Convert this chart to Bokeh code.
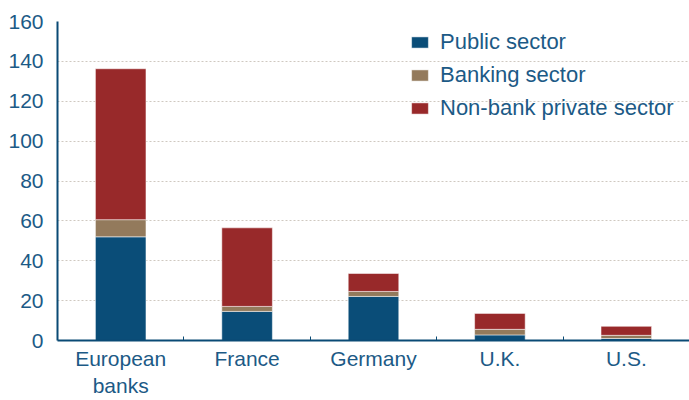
from bokeh.plotting import figure
from bokeh.models import FixedTicker, Range1d, ColumnDataSource, Legend, LegendItem
from bokeh.embed import file_html
from bokeh.resources import INLINE

categories = ["European\nbanks", "France", "Germany", "U.K.", "U.S."]
public = [52.0, 14.6, 22.1, 2.8, 1.0]
banking = [8.6, 2.5, 2.5, 2.8, 1.6]
nonbank = [75.7, 39.4, 9.0, 8.0, 4.5]
series_names = ["Public sector", "Banking sector", "Non-bank private sector"]
colors = ["#0a4d78", "#937a5c", "#98292a"]
y_ticks = [0, 20, 40, 60, 80, 100, 120, 140, 160]

TEXT = "#1c5a86"
AXIS = "#0a4a75"
FONT = "Liberation Sans"

xs = [i + 0.5 for i in range(len(categories))]
src = ColumnDataSource(dict(x=xs, public=public, banking=banking, nonbank=nonbank))

p = figure(width=689, height=400, output_backend="svg", toolbar_location=None,
           x_range=Range1d(0, len(categories)), y_range=Range1d(0, 160),
           min_border_left=57, min_border_right=0, min_border_top=21, min_border_bottom=10)
p.outline_line_color = None
p.background_fill_color = "white"
p.border_fill_color = "white"

renderers = p.vbar_stack(["public", "banking", "nonbank"], x="x", width=0.4, source=src,
                         color=colors, line_color="white", line_width=1, line_alpha=0.5)

p.xaxis.ticker = FixedTicker(ticks=xs, minor_ticks=list(range(1, len(categories))))
p.xaxis.major_label_overrides = {x: c for x, c in zip(xs, categories)}
p.xaxis.major_tick_in = 0
p.xaxis.major_tick_out = 0
p.xaxis.minor_tick_in = 4
p.xaxis.minor_tick_out = 0
p.xaxis.minor_tick_line_color = AXIS
p.xaxis.axis_line_color = AXIS
p.xaxis.axis_line_width = 2
p.xaxis.major_label_standoff = 6
p.xaxis.major_label_text_font = FONT
p.xaxis.major_label_text_font_size = "21px"
p.xaxis.major_label_text_color = TEXT

p.yaxis.ticker = FixedTicker(ticks=y_ticks)
p.yaxis.major_tick_in = 0
p.yaxis.major_tick_out = 0
p.yaxis.minor_tick_line_color = None
p.yaxis.axis_line_color = AXIS
p.yaxis.axis_line_width = 2
p.yaxis.major_label_standoff = 14
p.yaxis.major_label_text_font = FONT
p.yaxis.major_label_text_font_size = "21px"
p.yaxis.major_label_text_color = TEXT

p.xgrid.grid_line_color = None
p.ygrid.grid_line_color = "#cfc8c0"
p.ygrid.grid_line_dash = "2 2"
p.ygrid.grid_line_width = 1

legend = Legend(items=[LegendItem(label=n, renderers=[r]) for n, r in zip(series_names, renderers)],
                location=(352, 219))
legend.padding = 0
legend.margin = 0
legend.spacing = 7
legend.glyph_width = 21
legend.glyph_height = 14
legend.label_standoff = 10
legend.label_text_font = FONT
legend.label_text_font_size = "22px"
legend.label_text_color = TEXT
legend.border_line_alpha = 0
legend.background_fill_alpha = 0
p.add_layout(legend, "center")

open("out.html", "w").write(file_html(p, INLINE))
